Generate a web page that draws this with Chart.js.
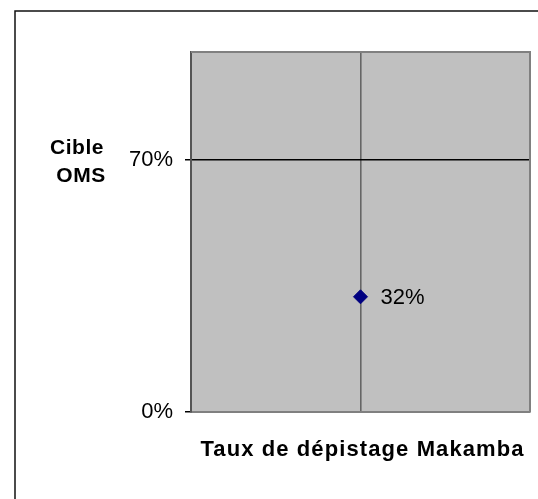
<!DOCTYPE html>
<html>
<head>
<meta charset="utf-8">
<script src="https://cdn.jsdelivr.net/npm/chart.js@4/dist/chart.umd.min.js"></script>
<style>
  html, body { margin: 0; padding: 0; background: #fff; overflow: hidden; }
  #wrap { width: 538px; height: 499px; position: relative; }
</style>
</head>
<body>
<div id="wrap"><canvas id="chart" width="538" height="499"></canvas></div>
<script>
// data
const categories = ['Taux de dépistage Makamba'];
const values = [32];
const yTicks = [0, 70];
const targetLabel = ['Cible', 'OMS'];

Chart.defaults.font.family = '"Liberation Sans", Arial, sans-serif';
Chart.defaults.color = '#000';

// frame, grey plot area and texts that Chart.js can't place itself
const decor = {
    id: 'decor',
    beforeDraw(chart) {
        const ctx = chart.ctx, a = chart.chartArea;
        ctx.save();
        ctx.fillStyle = '#fff';
        ctx.fillRect(0, 0, chart.width, chart.height);
        ctx.strokeStyle = '#111';
        ctx.lineWidth = 1.5;
        ctx.strokeRect(15, 11, 700, 700);
        ctx.fillStyle = '#c0c0c0';
        ctx.fillRect(a.left, a.top, a.right - a.left, a.bottom - a.top);
        ctx.restore();
    },
    afterDraw(chart) {
        const ctx = chart.ctx, a = chart.chartArea;
        const y = chart.scales.y;
        ctx.save();
        // top and right edges of the plot area
        ctx.strokeStyle = '#808080';
        ctx.lineWidth = 2;
        ctx.beginPath();
        ctx.moveTo(a.left, a.top);
        ctx.lineTo(a.right, a.top);
        ctx.lineTo(a.right, a.bottom);
        ctx.stroke();

        // "Cible OMS" next to the 70% tick
        const y70 = y.getPixelForValue(yTicks[1]);
        ctx.fillStyle = '#000';
        ctx.font = 'bold 21px "Liberation Sans", Arial, sans-serif';
        ctx.textAlign = 'center';
        ctx.textBaseline = 'middle';
        ctx.letterSpacing = '0.5px';
        ctx.fillText(targetLabel[0], 77, y70 - 12);
        ctx.fillText(targetLabel[1], 81, y70 + 16);

        // x axis title with Excel-like spacing
        ctx.font = 'bold 22px "Liberation Sans", Arial, sans-serif';
        ctx.letterSpacing = '1.1px';
        ctx.fillText(categories[0], (a.left + a.right) / 2 + 2, a.bottom + 38);
        ctx.letterSpacing = '0px';

        // value label
        const meta = chart.getDatasetMeta(0);
        ctx.font = '22px "Liberation Sans", Arial, sans-serif';
        ctx.textAlign = 'left';
        meta.data.forEach((pt, i) => {
            ctx.fillText(values[i] + '%', pt.x + 20, pt.y + 1);
        });
        ctx.restore();
    }
};

new Chart(document.getElementById('chart'), {
    type: 'scatter',
    data: {
        datasets: [{
            label: categories[0],
            data: values.map((v, i) => ({ x: i + 1, y: v })),
            pointStyle: 'rectRot',
            pointRadius: 7,
            pointHoverRadius: 7,
            backgroundColor: '#000080',
            borderColor: '#000080',
            borderWidth: 1
        }]
    },
    options: {
        responsive: false,
        animation: false,
        events: [],
        layout: { padding: { top: 52, right: 6, left: 0, bottom: 0 } },
        plugins: { legend: { display: false }, tooltip: { enabled: false } },
        scales: {
            x: {
                type: 'linear',
                min: 0,
                max: categories.length * 2,
                ticks: { display: false, stepSize: 1 },
                grid: {
                    color: ctx => ctx.tick && ctx.tick.value === 1 ? '#666' : 'rgba(0,0,0,0)',
                    lineWidth: 1.6,
                    drawTicks: false
                },
                border: { color: '#808080', width: 2 },
                afterFit: s => { s.height = 87; }
            },
            y: {
                min: 0,
                max: 100,
                afterBuildTicks: s => { s.ticks = yTicks.map(v => ({ value: v })); },
                ticks: {
                    callback: v => v + '%',
                    font: { size: 22 },
                    padding: 12
                },
                grid: {
                    color: ctx => ctx.tick && ctx.tick.value === 70 ? '#000' : 'rgba(0,0,0,0)',
                    tickColor: '#000',
                    tickLength: 6,
                    lineWidth: 1.5
                },
                border: { color: '#555', width: 2 },
                afterFit: s => { s.width = 191; }
            }
        }
    },
    plugins: [decor]
});
</script>
</body>
</html>
